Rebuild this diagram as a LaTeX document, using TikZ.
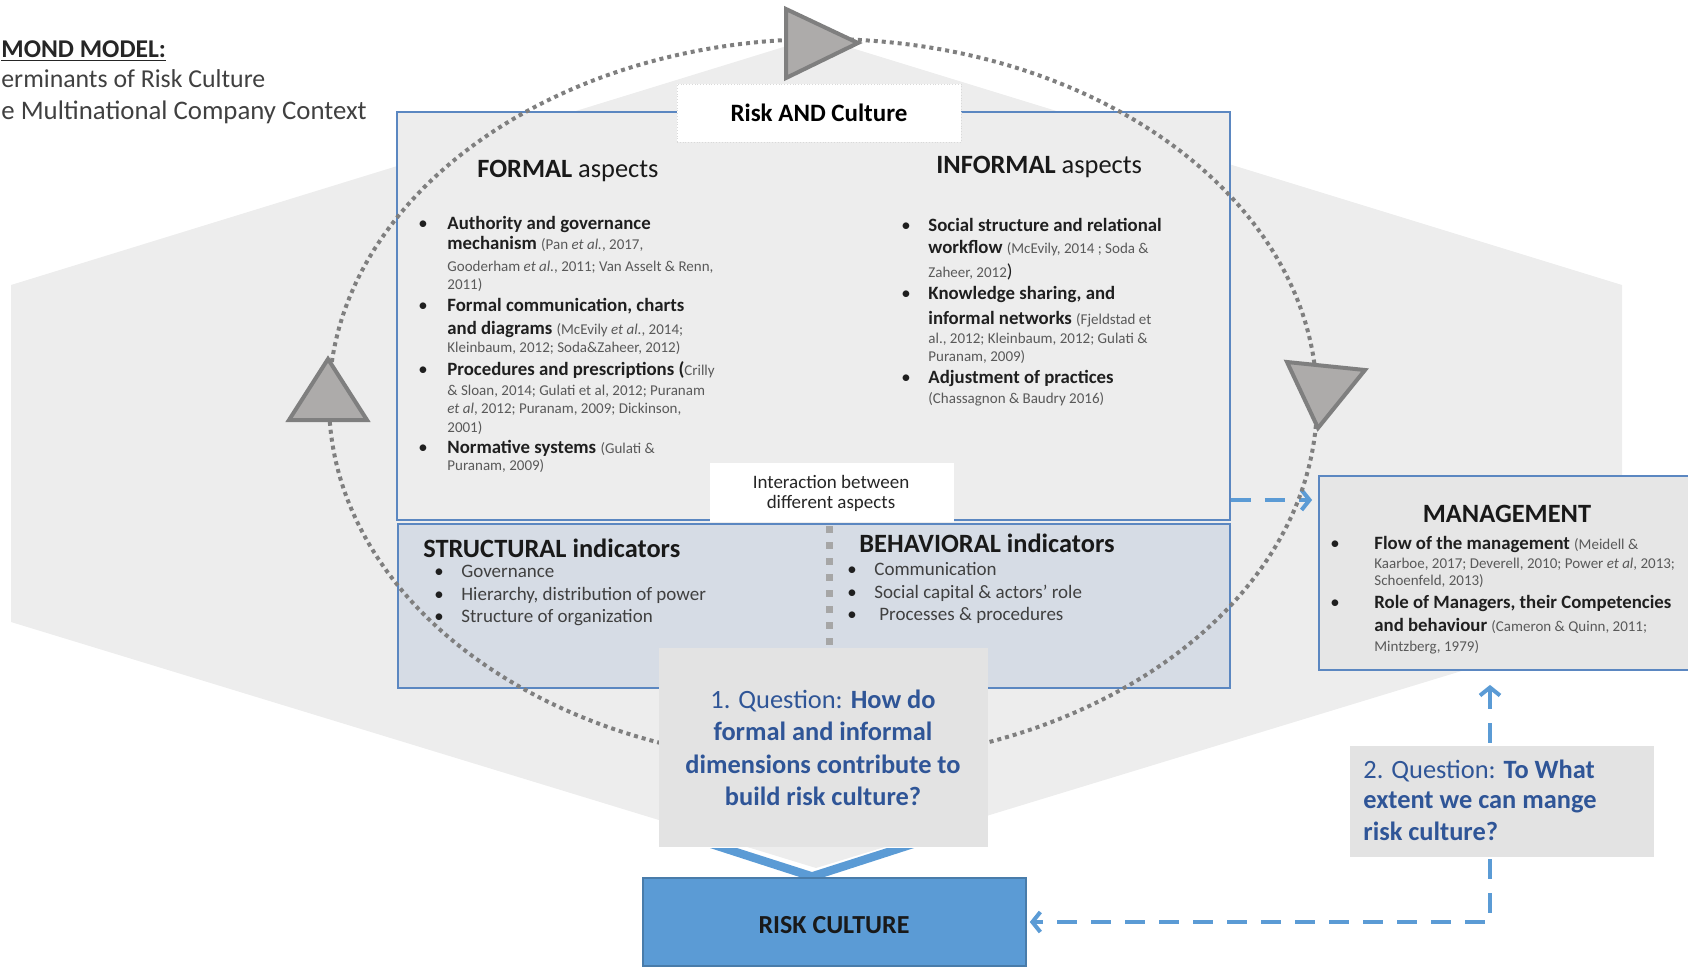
\documentclass[tikz,border=0pt]{standalone}
\usepackage{fontspec}
\setmainfont{Carlito}
\usetikzlibrary{arrows.meta}

\definecolor{hexgray}{HTML}{EDEDED}
\definecolor{boxblue}{HTML}{5B87C1}
\definecolor{lowfill}{HTML}{D6DCE5}
\definecolor{qfill}{HTML}{E3E3E3}
\definecolor{mfill}{HTML}{E6E6E6}
\definecolor{flowblue}{HTML}{5B9BD5}
\definecolor{qblue}{HTML}{2F5597}
\definecolor{dotgray}{HTML}{7F7F7F}
\definecolor{trifill}{HTML}{ADABAA}
\definecolor{refgray}{HTML}{595959}
\definecolor{txtgray}{HTML}{404040}
\definecolor{divgray}{HTML}{A6A6A6}

\newcommand{\refs}[1]{{\fontsize{7.5}{9}\selectfont\color{refgray}#1}}

\begin{document}
\begin{tikzpicture}[x=0.5pt,y=-0.5pt,
  txt/.style={inner sep=0pt, anchor=base west},
  item/.style={txt, font=\fontsize{9.4}{11}\selectfont, text=black!88},
  plain/.style={txt, font=\fontsize{9.5}{11}\selectfont, text=txtgray},
  head/.style={txt, font=\fontsize{13.2}{16}\selectfont, text=black!90},
  bul/.style={inner sep=0pt, anchor=base, font=\fontsize{9.4}{11}\selectfont, text=black!88},
  qline/.style={inner sep=0pt, anchor=base, font=\fontsize{13.2}{16}\selectfont, text=qblue},
  frame/.style={draw=boxblue, line width=0.9pt, inner sep=0pt},
  flow/.style={draw=flowblue, line width=2pt, dash pattern=on 10pt off 7pt},
  dotring/.style={draw=dotgray, line width=2pt, dash pattern=on 2pt off 2pt},
  tri/.style={draw=dotgray, line width=2pt, fill=trifill, line join=miter},
  >={Straight Barb[length=4pt,width=10pt]}]
\useasboundingbox (0,0) rectangle (1688,966);
\clip (0,0) rectangle (1688,966);

%Shape: Hexagon
\fill[hexgray] (11,285) -- (816,37) -- (1622,285) -- (1622,622) -- (816,868) -- (11,622) -- cycle;

%Shape: Boxes
\node[frame, fill=hexgray, minimum width=416.5pt, minimum height=204pt] (topbox) at (813.5,316) {};
\node[frame, fill=lowfill, minimum width=416pt, minimum height=82pt] (lowbox) at (814,606) {};
\node[fill=white, draw=black!15, densely dotted, minimum width=142pt, minimum height=29pt,
  font=\bfseries\fontsize{12.5}{15}\selectfont] (rac) at (819,113) {Risk AND Culture};
\node[fill=white, minimum width=122pt, minimum height=29.5pt] (inter) at (832,492.5) {};
\node[frame, fill=mfill, minimum width=190.5pt, minimum height=97pt] (mgmt) at (1509.5,573) {};

%Straight Lines: divider
\draw[divgray, line width=3.5pt, dash pattern=on 3.5pt off 4.5pt] (829,526) -- (829,652);

%Straight Lines: to management
\coordinate (lvl) at (0,500);
\draw[flow, ->, shorten >=3pt] (topbox.east |- lvl) -- (mgmt.west |- lvl);

%Shape: Ellipse
\draw[dotring] (823,401) ellipse [x radius=494, y radius=362];

%Shape: Triangles
\draw[tri] (786,9) -- (858,43) -- (786,78) -- cycle;
\draw[tri] (328,359) -- (367,420) -- (289,420) -- cycle;
\draw[tri] (1287,362) -- (1365,370) -- (1318,428) -- cycle;

%Shape: Chevron
\fill[flowblue] (710,848) -- (812,881) -- (914,848) -- (887,848) -- (812,872) -- (737,848) -- cycle;

%Shape: Question and culture boxes
\node[fill=qfill, minimum width=164.5pt, minimum height=99.5pt] (q1) at (823.5,747.5) {};
\node[fill=flowblue, draw=flowblue!80!black, line width=0.8pt, minimum width=191.5pt, minimum height=44pt] (culture) at (834.5,922) {};

%Straight Lines: management and culture
\coordinate (qx) at (1490,0);
\draw[flow, <->, shorten <=7pt, shorten >=1.5pt] (mgmt.south -| qx) -- (qx |- culture.east) -- (culture.east);
\node[fill=qfill, minimum width=152pt, minimum height=55.5pt] (q2) at (1502,801.5) {};

% Text Node: title
\node[txt, font=\bfseries\fontsize{12.8}{16}\selectfont, text=black!85] (title1) at (1,57) {\underline{MOND MODEL:}};
\node[txt, font=\fontsize{12.9}{16}\selectfont, text=txtgray] (title2) at (1,87) {erminants of Risk Culture};
\node[txt, font=\fontsize{13.4}{16}\selectfont, text=txtgray] (title3) at (1,119) {e Multinational Company Context};

% Text Node: headings
\node[head] (formalhd) at (477,177) {\textbf{FORMAL} aspects};
\node[head] (informalhd) at (936,173) {\textbf{INFORMAL} aspects};
\node[head] (structhd) at (423,557) {\textbf{STRUCTURAL indicators}};
\node[head] (behavhd) at (859,552) {\textbf{BEHAVIORAL indicators}};
\node[head, anchor=base] (mgmthd) at (1507,522) {\textbf{MANAGEMENT}};

% Text Node: formal aspects
\foreach \y [count=\i] in {229,311,375,453}
  \node[bul] (fb\i) at (423,\y) {•};
\node[item] (fa1) at (447,229) {\textbf{Authority and governance}};
\node[item] (fa2) at (447,249) {\textbf{mechanism} \refs{(Pan \textit{et al.}, 2017,}};
\node[item] (fa3) at (447,271) {\refs{Gooderham \textit{et al.}, 2011; Van Asselt \& Renn,}};
\node[item] (fa4) at (447,289) {\refs{2011)}};
\node[item] (fa5) at (447,311) {\textbf{Formal communication, charts}};
\node[item] (fa6) at (447,334) {\textbf{and diagrams} \refs{(McEvily \textit{et al.}, 2014;}};
\node[item] (fa7) at (447,352) {\refs{Kleinbaum, 2012; Soda\&Zaheer, 2012)}};
\node[item] (fa8) at (447,375) {\textbf{Procedures and prescriptions (}\refs{Crilly}};
\node[item] (fa9) at (447,395) {\refs{\& Sloan, 2014; Gulati et al, 2012; Puranam}};
\node[item] (fa10) at (447,413) {\refs{\textit{et al}, 2012; Puranam, 2009; Dickinson,}};
\node[item] (fa11) at (447,432) {\refs{2001)}};
\node[item] (fa12) at (447,453) {\textbf{Normative systems} \refs{(Gulati \&}};
\node[item] (fa13) at (447,470) {\refs{Puranam, 2009)}};

% Text Node: informal aspects
\foreach \y [count=\i] in {231,299,383}
  \node[bul] (ib\i) at (906,\y) {•};
\node[item] (ia1) at (928,231) {\textbf{Social structure and relational}};
\node[item] (ia2) at (928,253) {\textbf{workflow} \refs{(McEvily, 2014 ; Soda \&}};
\node[item] (ia3) at (928,277) {\refs{Zaheer, 2012})};
\node[item] (ia4) at (928,299) {\textbf{Knowledge sharing, and}};
\node[item] (ia5) at (928,324) {\textbf{informal networks} \refs{(Fjeldstad et}};
\node[item] (ia6) at (928,343) {\refs{al., 2012; Kleinbaum, 2012; Gulati \&}};
\node[item] (ia7) at (928,361) {\refs{Puranam, 2009)}};
\node[item] (ia8) at (928,383) {\textbf{Adjustment of practices}};
\node[item] (ia9) at (928,403) {\refs{(Chassagnon \& Baudry 2016)}};

% Text Node: interaction
\node[plain, anchor=base, text=black!85] (inter1) at (831,488) {Interaction between};
\node[plain, anchor=base, text=black!85] (inter2) at (831,508) {different aspects};

% Text Node: structural and behavioral indicators
\foreach \y [count=\i] in {577,600,622}
  \node[bul] (sb\i) at (439,\y) {•};
\node[plain] (si1) at (461,577) {Governance};
\node[plain] (si2) at (461,600) {Hierarchy, distribution of power};
\node[plain] (si3) at (461,622) {Structure of organization};
\foreach \y [count=\i] in {575,598,620}
  \node[bul] (bb\i) at (852,\y) {•};
\node[plain] (bi1) at (874,575) {Communication};
\node[plain] (bi2) at (874,598) {Social capital \& actors’ role};
\node[plain] (bi3) at (879,620) {Processes \& procedures};

% Text Node: management
\foreach \y [count=\i] in {549,608}
  \node[bul] (mb\i) at (1335,\y) {•};
\node[item] (ma1) at (1374,549) {\textbf{Flow of the management} \refs{(Meidell \&}};
\node[item] (ma2) at (1374,568) {\refs{Kaarboe, 2017; Deverell, 2010; Power \textit{et al}, 2013;}};
\node[item] (ma3) at (1374,585) {\refs{Schoenfeld, 2013)}};
\node[item] (ma4) at (1374,608) {\textbf{Role of Managers, their Competencies}};
\node[item] (ma5) at (1374,631) {\textbf{and behaviour} \refs{(Cameron \& Quinn, 2011;}};
\node[item] (ma6) at (1374,651) {\refs{Mintzberg, 1979)}};

% Text Node: questions
\node[qline] (q1a) at (823,708) {1. Question: \textbf{How do}};
\node[qline] (q1b) at (823,740) {\textbf{formal and informal}};
\node[qline] (q1c) at (823,773) {\textbf{dimensions contribute to}};
\node[qline] (q1d) at (823,805) {\textbf{build risk culture?}};
\node[qline, anchor=base west] (q2a) at (1363,778) {2. Question: \textbf{To What}};
\node[qline, anchor=base west] (q2b) at (1363,808) {\textbf{extent we can mange}};
\node[qline, anchor=base west] (q2c) at (1363,840) {\textbf{risk culture?}};

% Text Node: risk culture
\node[inner sep=0pt, anchor=base, font=\bfseries\fontsize{13}{15}\selectfont, text=black!90] (culturetxt) at (834,933) {RISK CULTURE};

\end{tikzpicture}
\end{document}
